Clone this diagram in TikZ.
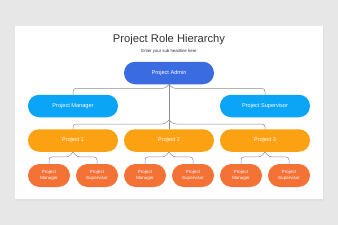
\documentclass[tikz,border=0pt]{standalone}
\usepackage{fontspec}
\setmainfont{Liberation Sans}
\usetikzlibrary{calc}
\definecolor{bgc}{HTML}{E8E7E7}
\definecolor{adminc}{HTML}{3A6BE0}
\definecolor{mgrc}{HTML}{0AA5F7}
\definecolor{projc}{HTML}{FBA112}
\definecolor{subc}{HTML}{F57236}
\definecolor{linec}{HTML}{8C8C8C}
\definecolor{titlec}{HTML}{333333}
\tikzset{
  pill/.style={rounded corners=11pt, minimum width=90pt, minimum height=22.5pt, inner sep=0pt, text=white, font=\fontsize{5.6}{6.5}\selectfont},
  adminbox/.style={pill, fill=adminc},
  mgrbox/.style={pill, fill=mgrc},
  projbox/.style={pill, fill=projc},
  subbox/.style={pill, fill=subc, minimum width=42pt, minimum height=23pt, rounded corners=11.5pt, align=center, font=\fontsize{4.5}{5.5}\selectfont},
  conn/.style={draw=linec, line width=0.5pt, rounded corners=3pt}
}
\begin{document}
\begin{tikzpicture}[x=1pt,y=-1pt]
\fill[bgc] (0,0) rectangle (338,225);
\useasboundingbox (0,0) rectangle (338,225);
\fill[black!12] (15,27) rectangle (324,200.5);
\fill[white] (15,26) rectangle (323,199);
\node[font=\fontsize{11.2}{13}\selectfont, text=titlec] (title) at (169,40) {Project Role Hierarchy};
\node[font=\fontsize{4.3}{5}\selectfont, text=titlec] (sub) at (169,51.5) {Enter your sub headline here};
\node[adminbox] (pa) at (169,73) {Project Admin};
\node[mgrbox] (pm) at (73,106) {Project Manager};
\node[mgrbox] (ps) at (265,106) {Project Supervisor};
\node[projbox] (p1) at (73,140.5) {Project 1};
\node[projbox] (p2) at (169,140.5) {Project 2};
\node[projbox] (p3) at (265,140.5) {Project 3};
\foreach \i/\x in {1/49,2/97,3/145,4/193,5/241,6/289}{
  \pgfmathtruncatemacro{\odd}{mod(\i,2)}
  \ifnum\odd=1
    \node[subbox] (s\i) at (\x,175.5) {Project\\Manager};
  \else
    \node[subbox] (s\i) at (\x,175.5) {Project\\Supervisor};
  \fi
}
% admin to managers
\draw[conn] (pa.south) -- ++(-4,4) -| (pm.north);
\draw[conn] (pa.south) -- ++(4,4) -| (ps.north);
\draw[conn, rounded corners=0pt] (pa.south) -- (p2.north);
\coordinate (c1) at (169,120);
\draw[conn] (c1) -- ++(-4,4) -| (p1.north);
\draw[conn] (c1) -- ++(4,4) -| (p3.north);
% projects to subs
\draw[conn] (p1.south) -- ++(-4,5) -| (s1.north);
\draw[conn] (p1.south) -- ++(4,5) -| (s2.north);
\draw[conn] (p2.south) -- ++(-4,5) -| (s3.north);
\draw[conn] (p2.south) -- ++(4,5) -| (s4.north);
\draw[conn] (p3.south) -- ++(-4,5) -| (s5.north);
\draw[conn] (p3.south) -- ++(4,5) -| (s6.north);
\end{tikzpicture}
\end{document}
